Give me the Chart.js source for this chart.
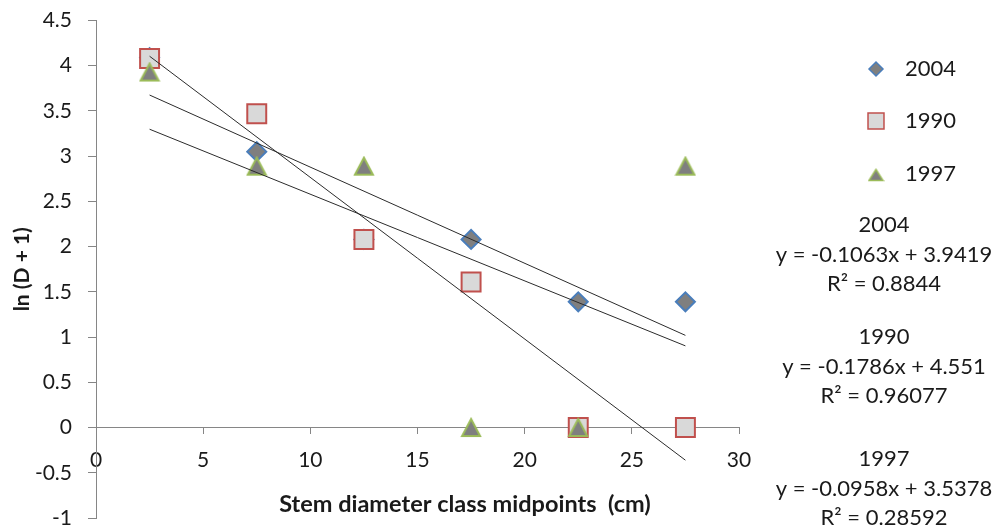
<!DOCTYPE html>
<html>
<head>
<meta charset="utf-8">
<script src="https://cdn.jsdelivr.net/npm/chart.js@4.4.1/dist/chart.umd.min.js"></script>
<style>
  body { margin: 0; background: #fff; }
  #wrap { width: 993px; height: 527px; }
</style>
</head>
<body>
<div id="wrap"><canvas id="myChart" width="993" height="527"></canvas></div>
<script>
// stem diameter class midpoints (cm)
const midpoints = [2.5, 7.5, 12.5, 17.5, 22.5, 27.5];

// ln(D + 1) per census year
const values2004 = [4.09, 3.05, 2.08, 2.08, 1.39, 1.39];
const values1990 = [4.08, 3.47, 2.08, 1.61, 0, 0];
const values1997 = [3.93, 2.89, 2.89, 0, 0, 2.89];

// linear trendline ends at x = 2.5 and x = 27.5
const trendX = [2.5, 27.5];
const trend2004 = [3.676, 1.019];
const trend1990 = [4.105, -0.361];
const trend1997 = [3.298, 0.903];

const xTicks = [0, 5, 10, 15, 20, 25, 30];
const yTicks = [-1, -0.5, 0, 0.5, 1, 1.5, 2, 2.5, 3, 3.5, 4, 4.5];

const equations = [
  ["2004", "y = -0.1063x + 3.9419", "R\u00b2 = 0.8844"],
  ["1990", "y = -0.1786x + 4.551", "R\u00b2 = 0.96077"],
  ["1997", "y = -0.0958x + 3.5378", "R\u00b2 = 0.28592"],
];

const FONT = "Lato";
const TEXT = "#1a1a1a";
const AXIS = "#868686";

// triangle marker centred on its box, like the Excel one
function triangle(w, h, lw, fill, stroke) {
  const c = document.createElement("canvas");
  c.width = w + lw * 2;
  c.height = h + lw * 2;
  const g = c.getContext("2d");
  g.beginPath();
  g.moveTo(c.width / 2, lw);
  g.lineTo(c.width - lw, c.height - lw);
  g.lineTo(lw, c.height - lw);
  g.closePath();
  g.fillStyle = fill;
  g.fill();
  g.lineWidth = lw;
  g.strokeStyle = stroke;
  g.lineJoin = "miter";
  g.stroke();
  return c;
}

const pts = (xs, ys) => xs.map((x, i) => ({ x: x, y: ys[i] }));

const trendSet = (ys) => ({
  data: pts(trendX, ys),
  showLine: true,
  borderColor: "#2b2b2b",
  borderWidth: 1,
  pointRadius: 0,
  pointHoverRadius: 0,
  order: 0,
});

const series = [
  { label: "2004", data: pts(midpoints, values2004), pointStyle: "rectRot", pointRadius: 9.5,
    backgroundColor: "#7f7f7f", borderColor: "#4a7ebb", pointBorderWidth: 2, order: 3 },
  { label: "1990", data: pts(midpoints, values1990), pointStyle: "rect", pointRadius: 13.4,
    backgroundColor: "#d9d9d9", borderColor: "#c0504d", pointBorderWidth: 2, order: 2 },
  { label: "1997", data: pts(midpoints, values1997), pointStyle: triangle(18, 17, 2, "#7f7f7f", "#9bbb59"), pointRadius: 11,
    backgroundColor: "#7f7f7f", borderColor: "#9bbb59", pointBorderWidth: 2, order: 1 },
];
series.forEach(s => { s.pointHoverRadius = s.pointRadius; s.showLine = false; });

// legend + trendline labels on the right, x title
const legendIcons = [
  { pointStyle: "rectRot", radius: 7 },
  { pointStyle: "rect", radius: 11.3 },
  { pointStyle: triangle(14, 11.5, 1.5, "#7f7f7f", "#9bbb59"), radius: 8 },
];
const sidePlugin = {
  id: "side",
  afterDraw(chart) {
    const ctx = chart.ctx;
    const legendY = [69, 121, 175];
    ctx.save();
    series.forEach((s, i) => {
      ctx.fillStyle = s.backgroundColor;
      ctx.strokeStyle = s.borderColor;
      ctx.lineWidth = 1.5;
      Chart.helpers.drawPoint(ctx, { pointStyle: legendIcons[i].pointStyle, radius: legendIcons[i].radius, borderWidth: 1.5, rotation: 0 },
        876, legendY[i]);
      ctx.fillStyle = TEXT;
      ctx.font = "22px " + FONT;
      ctx.textAlign = "left";
      ctx.textBaseline = "middle";
      ctx.fillText(s.label, 905, legendY[i] - (i === 2 ? 1 : 0));
    });

    const blockY = [225, 337, 459];
    ctx.textAlign = "center";
    equations.forEach((lines, i) => {
      lines.forEach((t, j) => ctx.fillText(t, 884, blockY[i] + j * 29.5));
    });

    ctx.font = "bold 23.5px " + FONT;
    ctx.textBaseline = "alphabetic";
    ctx.fillText("Stem diameter class midpoints  (cm)", 465, 512);
    ctx.restore();
  }
};

const ctx = document.getElementById("myChart").getContext("2d");
const myChart = new Chart(ctx, {
  type: "scatter",
  data: {
    datasets: [...series, trendSet(trend2004), trendSet(trend1990), trendSet(trend1997)],
  },
  options: {
    responsive: false,
    animation: false,
    layout: { autoPadding: false, padding: { left: 0, top: 20.5, right: 254, bottom: 9 } },
    plugins: { legend: { display: false }, tooltip: { enabled: false } },
    scales: {
      x: {
        type: "linear",
        position: { y: 0 },
        min: 0,
        max: 30,
        afterBuildTicks: (scale) => { scale.ticks = xTicks.map(v => ({ value: v })); },
        afterFit: (scale) => { scale.paddingLeft = 0; scale.paddingRight = 0; },
        grid: { display: true, drawOnChartArea: false, drawTicks: true, tickLength: 6, color: AXIS },
        border: { display: true, color: AXIS, width: 1 },
        ticks: { color: TEXT, font: { family: FONT, size: 21, lineHeight: 1 }, padding: 16, callback: v => String(v) },
      },
      y: {
        type: "linear",
        min: -1,
        max: 4.5,
        afterBuildTicks: (scale) => { scale.ticks = yTicks.map(v => ({ value: v })); },
        afterFit: (scale) => { scale.width = 96; scale.paddingTop = 0; scale.paddingBottom = 0; },
        grid: { display: true, drawOnChartArea: false, drawTicks: true, tickLength: 8, color: AXIS },
        border: { display: true, color: AXIS, width: 1 },
        ticks: { color: TEXT, font: { family: FONT, size: 21, lineHeight: 1 }, padding: 16, callback: v => String(v) },
        title: {
          display: true,
          text: "ln (D + 1)",
          color: TEXT,
          font: { family: FONT, size: 21, weight: "bold", lineHeight: 1 },
          padding: { top: 12, bottom: 0 },
        },
      },
    },
  },
  plugins: [sidePlugin],
});
</script>
</body>
</html>
